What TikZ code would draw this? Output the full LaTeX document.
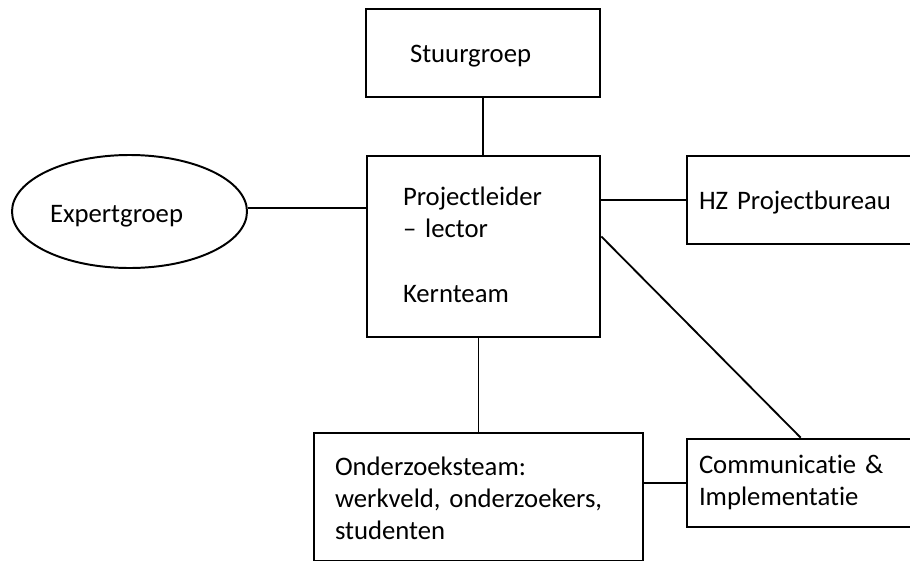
\documentclass[tikz,border=0pt]{standalone}
\usepackage{fontspec}
\setmainfont{Carlito}[Ligatures={TeX,NoCommon}]
\usepackage{tikz}
\usetikzlibrary{shapes.geometric}

\begin{document}
\begin{tikzpicture}[
    box/.style={draw, rectangle, line width=1.9pt, align=left, inner ysep=0pt, text height=16pt, text depth=3pt},
    link/.style={line width=1.3pt},
    font=\fontsize{19}{23}\selectfont
  ]
    \useasboundingbox (0,0) rectangle (22.75,-14);
    \clip (0,0) rectangle (22.75,-14);

    \node[box, minimum width=5.85cm, minimum height=2.2cm, inner xsep=1.1cm, text width=3.65cm] (stuur) at (12.075,-1.325) {Stuurgroep};
    \node[box, minimum width=5.825cm, minimum height=4.525cm, inner xsep=0.9cm, text width=4.025cm, text depth=75pt] (kern) at (12.0875,-6.1625) {Projectleider\\-- lector\\[23pt]Kernteam};
    \node[draw, ellipse, line width=1.4pt, minimum width=5.875cm, minimum height=2.825cm, inner sep=0pt, text width=3.975cm, align=left, text height=16pt, text depth=1pt] (expert) at (3.2375,-5.2875) {Expertgroep};
    \node[box, minimum width=6.325cm, minimum height=2.2cm, inner xsep=0.3cm, text width=5.725cm] (hz) at (20.3375,-5.0) {HZ Projectbureau};
    \node[box, minimum width=8.225cm, minimum height=3.2cm, inner xsep=0.525cm, text width=7.175cm, text depth=47pt] (onder) at (11.9625,-12.425) {Onderzoeksteam:\\werkveld, onderzoekers,\\studenten};
    \node[box, minimum width=6.325cm, minimum height=2.2cm, inner xsep=0.3cm, text width=5.725cm, text depth=30pt] (comm) at (20.3375,-12.075) {Communicatie \&\\Implementatie};

    \draw[link] (stuur.south) -- (stuur.south |- kern.north);
    \draw[link] ([yshift=0.09cm]expert.east) -- ([yshift=0.09cm]expert.east -| kern.west);
    \draw[link] (hz.west) -- (hz.west -| kern.east);
    \draw[link] ([yshift=0.25cm]kern.east) -- ([xshift=2.875cm]comm.north west);
    \draw[link] (onder.north) -- (onder.north |- kern.south);
    \draw[link] (comm.west) -- (comm.west -| onder.east);
\end{tikzpicture}
\end{document}
